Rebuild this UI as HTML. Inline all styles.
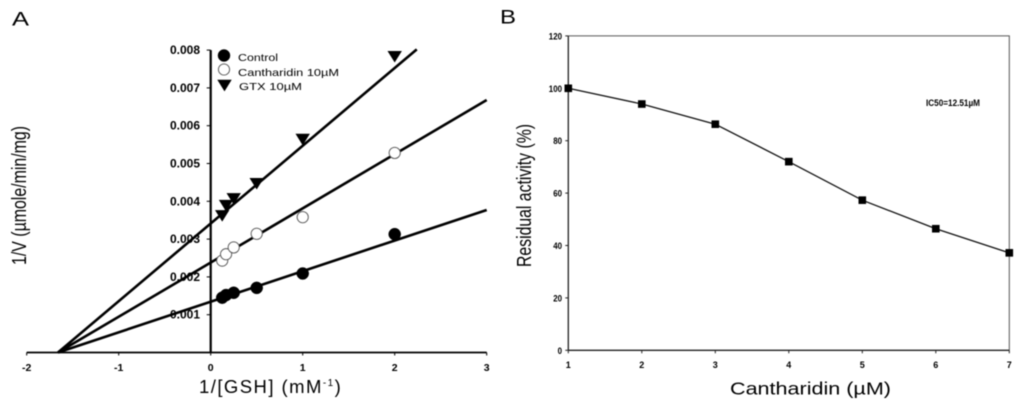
<!DOCTYPE html>
<html>
<head>
<meta charset="utf-8">
<title>Enzyme kinetics and residual activity</title>
<style>
html,body{margin:0;padding:0;background:#fff;width:1024px;height:407px;overflow:hidden}
svg{display:block;filter:blur(0.4px)}
text{font-family:"Liberation Sans",sans-serif;fill:#000}
</style>
</head>
<body>
<svg id="figure" xmlns="http://www.w3.org/2000/svg" width="1024" height="407" viewBox="0 0 1024 407">
<rect x="0" y="0" width="1024" height="407" fill="#fff"></rect>
<text x="12" y="25.5" font-size="19" textLength="17" lengthAdjust="spacingAndGlyphs">A</text>
<text x="500" y="23.5" font-size="19" textLength="16" lengthAdjust="spacingAndGlyphs">B</text>
<g id="chartA"></g>
<g id="chartB"></g>
<text transform="translate(26,265) rotate(-90)" font-size="20.5" textLength="139" lengthAdjust="spacingAndGlyphs">1/V (µmole/min/mg)</text>
<text x="199" y="393" font-size="18.5" letter-spacing="1.45">1/[GSH] (mM<tspan font-size="10" dy="-7">-1</tspan><tspan dy="7">)</tspan></text>
<text transform="translate(531,267) rotate(-90)" font-size="20.5" textLength="143" lengthAdjust="spacingAndGlyphs">Residual activity (%)</text>
<text x="730" y="394.5" font-size="17.5" textLength="161" lengthAdjust="spacingAndGlyphs">Cantharidin (µM)</text>
<text x="926" y="106" font-size="9" font-weight="bold" textLength="54" lengthAdjust="spacingAndGlyphs">IC50=12.51µM</text>
<g>
<text x="238" y="61" font-size="10.5" textLength="40" lengthAdjust="spacingAndGlyphs">Control</text>
<text x="238" y="76" font-size="10.5" textLength="101" lengthAdjust="spacingAndGlyphs">Cantharidin 10µM</text>
<text x="239" y="90" font-size="10.5" textLength="63" lengthAdjust="spacingAndGlyphs">GTX 10µM</text>
</g>
</svg>
<script>
const kineticsX = [0.125, 0.167, 0.25, 0.5, 1, 2];
const controlValues = [0.00145, 0.00152, 0.00158, 0.00171, 0.00209, 0.00313];
const cantharidinValues = [0.00243, 0.00260, 0.00278, 0.00314, 0.00358, 0.00528];
const gtxValues = [0.00363, 0.00390, 0.00408, 0.00448, 0.00565, 0.00784];
const fitXIntercept = -1.66;
const controlFitEnd = [3, 0.00377];
const cantharidinFitEnd = [3, 0.00668];
const gtxFitEnd = [2.24, 0.00802];
const kineticsXTicks = [-2, -1, 0, 1, 2, 3];
const kineticsYTicks = [0.001, 0.002, 0.003, 0.004, 0.005, 0.006, 0.007, 0.008];
const concentrations = [1, 2, 3, 4, 5, 6, 7];
const residualActivity = [100, 94, 86.3, 72, 57.3, 46.4, 37.2];
const activityYTicks = [0, 20, 40, 60, 80, 100, 120];

const NS = 'http://www.w3.org/2000/svg';
const xA = v => 210.7 + v * 92;
const yA = v => 352.5 - v * 37800;
const xB = v => 568.3 + (v - 1) * 73.5;
const yB = v => 350.3 - v * 2.62;

function make(parent, tag, props, text) {
  const el = document.createElementNS(NS, tag);
  for (const k in props) el.setAttribute(k, props[k]);
  if (text !== undefined) el.textContent = text;
  parent.appendChild(el);
  return el;
}
const chartA = document.getElementById('chartA');
const chartB = document.getElementById('chartB');

/* Panel A axes */
let el = make(chartA, 'line', {x1: xA(-2), y1: yA(0), x2: xA(3), y2: yA(0), stroke: '#000', 'stroke-width': 1.8});


el = make(chartA, 'line', {x1: xA(0), y1: yA(0.008), x2: xA(0), y2: yA(0), stroke: '#000', 'stroke-width': 2.2});



/* Fit lines */
[['control', controlFitEnd], ['cantharidin', cantharidinFitEnd], ['gtx', gtxFitEnd]].forEach(([name, end]) => {
  const fit = make(chartA, 'line', {x1: xA(fitXIntercept), y1: yA(0), x2: xA(end[0]), y2: yA(end[1]), stroke: '#000', 'stroke-width': 2.6});
  
  
});

/* Ticks */
kineticsXTicks.forEach(t => {
  const tick = make(chartA, 'line', {x1: xA(t), y1: yA(0), x2: xA(t), y2: yA(0) + 3, stroke: '#000', 'stroke-width': 1});
  
  
  const label = make(chartA, 'text', {x: xA(t), y: 371, 'font-size': 10.5, 'font-weight': 'bold', 'text-anchor': 'middle'}, String(t));
  
  
});
kineticsYTicks.forEach(t => {
  const tick = make(chartA, 'line', {x1: xA(0) - 4, y1: yA(t), x2: xA(0), y2: yA(t), stroke: '#000', 'stroke-width': 1});
  
  
  const label = make(chartA, 'text', {x: 170, y: yA(t) + 4, 'font-size': 11.5, 'font-weight': 'bold', textLength: 30, lengthAdjust: 'spacingAndGlyphs'}, t.toFixed(3));
  
  
});

/* Markers */
function circle(parent, cx, cy, open) {
  return make(parent, 'circle', {cx: cx, cy: cy, r: open ? 5.6 : 6, fill: open ? '#fff' : '#000', stroke: open ? '#555' : '#000', 'stroke-width': open ? 0.9 : 0.5});
}
function triangle(parent, cx, cy) {
  return make(parent, 'polygon', {points: (cx - 7.2) + ',' + (cy - 5.2) + ' ' + (cx + 7.2) + ',' + (cy - 5.2) + ' ' + cx + ',' + (cy + 6.4), fill: '#000'});
}
kineticsX.forEach((x, i) => {
  const c = circle(chartA, xA(x), yA(controlValues[i]), false);
  
  
});
kineticsX.forEach((x, i) => {
  const c = circle(chartA, xA(x), yA(cantharidinValues[i]), true);
  
  
});
kineticsX.forEach((x, i) => {
  const c = triangle(chartA, xA(x), yA(gtxValues[i]));
  
  
});

/* Legend markers */
let lg = circle(chartA, 224, 55.5, false);


lg = circle(chartA, 224, 69.5, true);


lg = triangle(chartA, 224.5, 85);



/* Panel B frame */
const frame = make(chartB, 'path', {d: 'M' + xB(1) + ' ' + yB(120) + 'H' + xB(7) + 'V' + yB(0), fill: 'none', stroke: '#555', 'stroke-width': 1});


el = make(chartB, 'line', {x1: xB(1), y1: yB(120), x2: xB(1), y2: yB(0), stroke: '#222', 'stroke-width': 1.3});


el = make(chartB, 'line', {x1: xB(1), y1: yB(0), x2: xB(7), y2: yB(0), stroke: '#222', 'stroke-width': 1.3});



concentrations.forEach(t => {
  const tick = make(chartB, 'line', {x1: xB(t), y1: yB(0), x2: xB(t), y2: yB(0) + 3, stroke: '#222', 'stroke-width': 1});
  
  
  const label = make(chartB, 'text', {x: xB(t), y: 368, 'font-size': 9, 'font-weight': 'bold', 'text-anchor': 'middle'}, String(t));
  
  
});
activityYTicks.forEach(t => {
  const tick = make(chartB, 'line', {x1: xB(1) - 3, y1: yB(t), x2: xB(1), y2: yB(t), stroke: '#222', 'stroke-width': 1});
  
  
  const s = String(t);
  const label = make(chartB, 'text', {x: 562, y: yB(t) + 3.5, 'font-size': 9.5, 'font-weight': 'bold', 'text-anchor': 'end', textLength: s.length * 4.4, lengthAdjust: 'spacingAndGlyphs'}, s);
  
  
});

const pts = concentrations.map((c, i) => xB(c) + ',' + yB(residualActivity[i])).join(' ');
const series = make(chartB, 'polyline', {points: pts, fill: 'none', stroke: '#111', 'stroke-width': 1.3});


concentrations.forEach((c, i) => {
  const m = make(chartB, 'rect', {x: xB(c) - 3.8, y: yB(residualActivity[i]) - 3.8, width: 7.6, height: 7.6, fill: '#000'});
  
  
});
</script>
</body>
</html>
